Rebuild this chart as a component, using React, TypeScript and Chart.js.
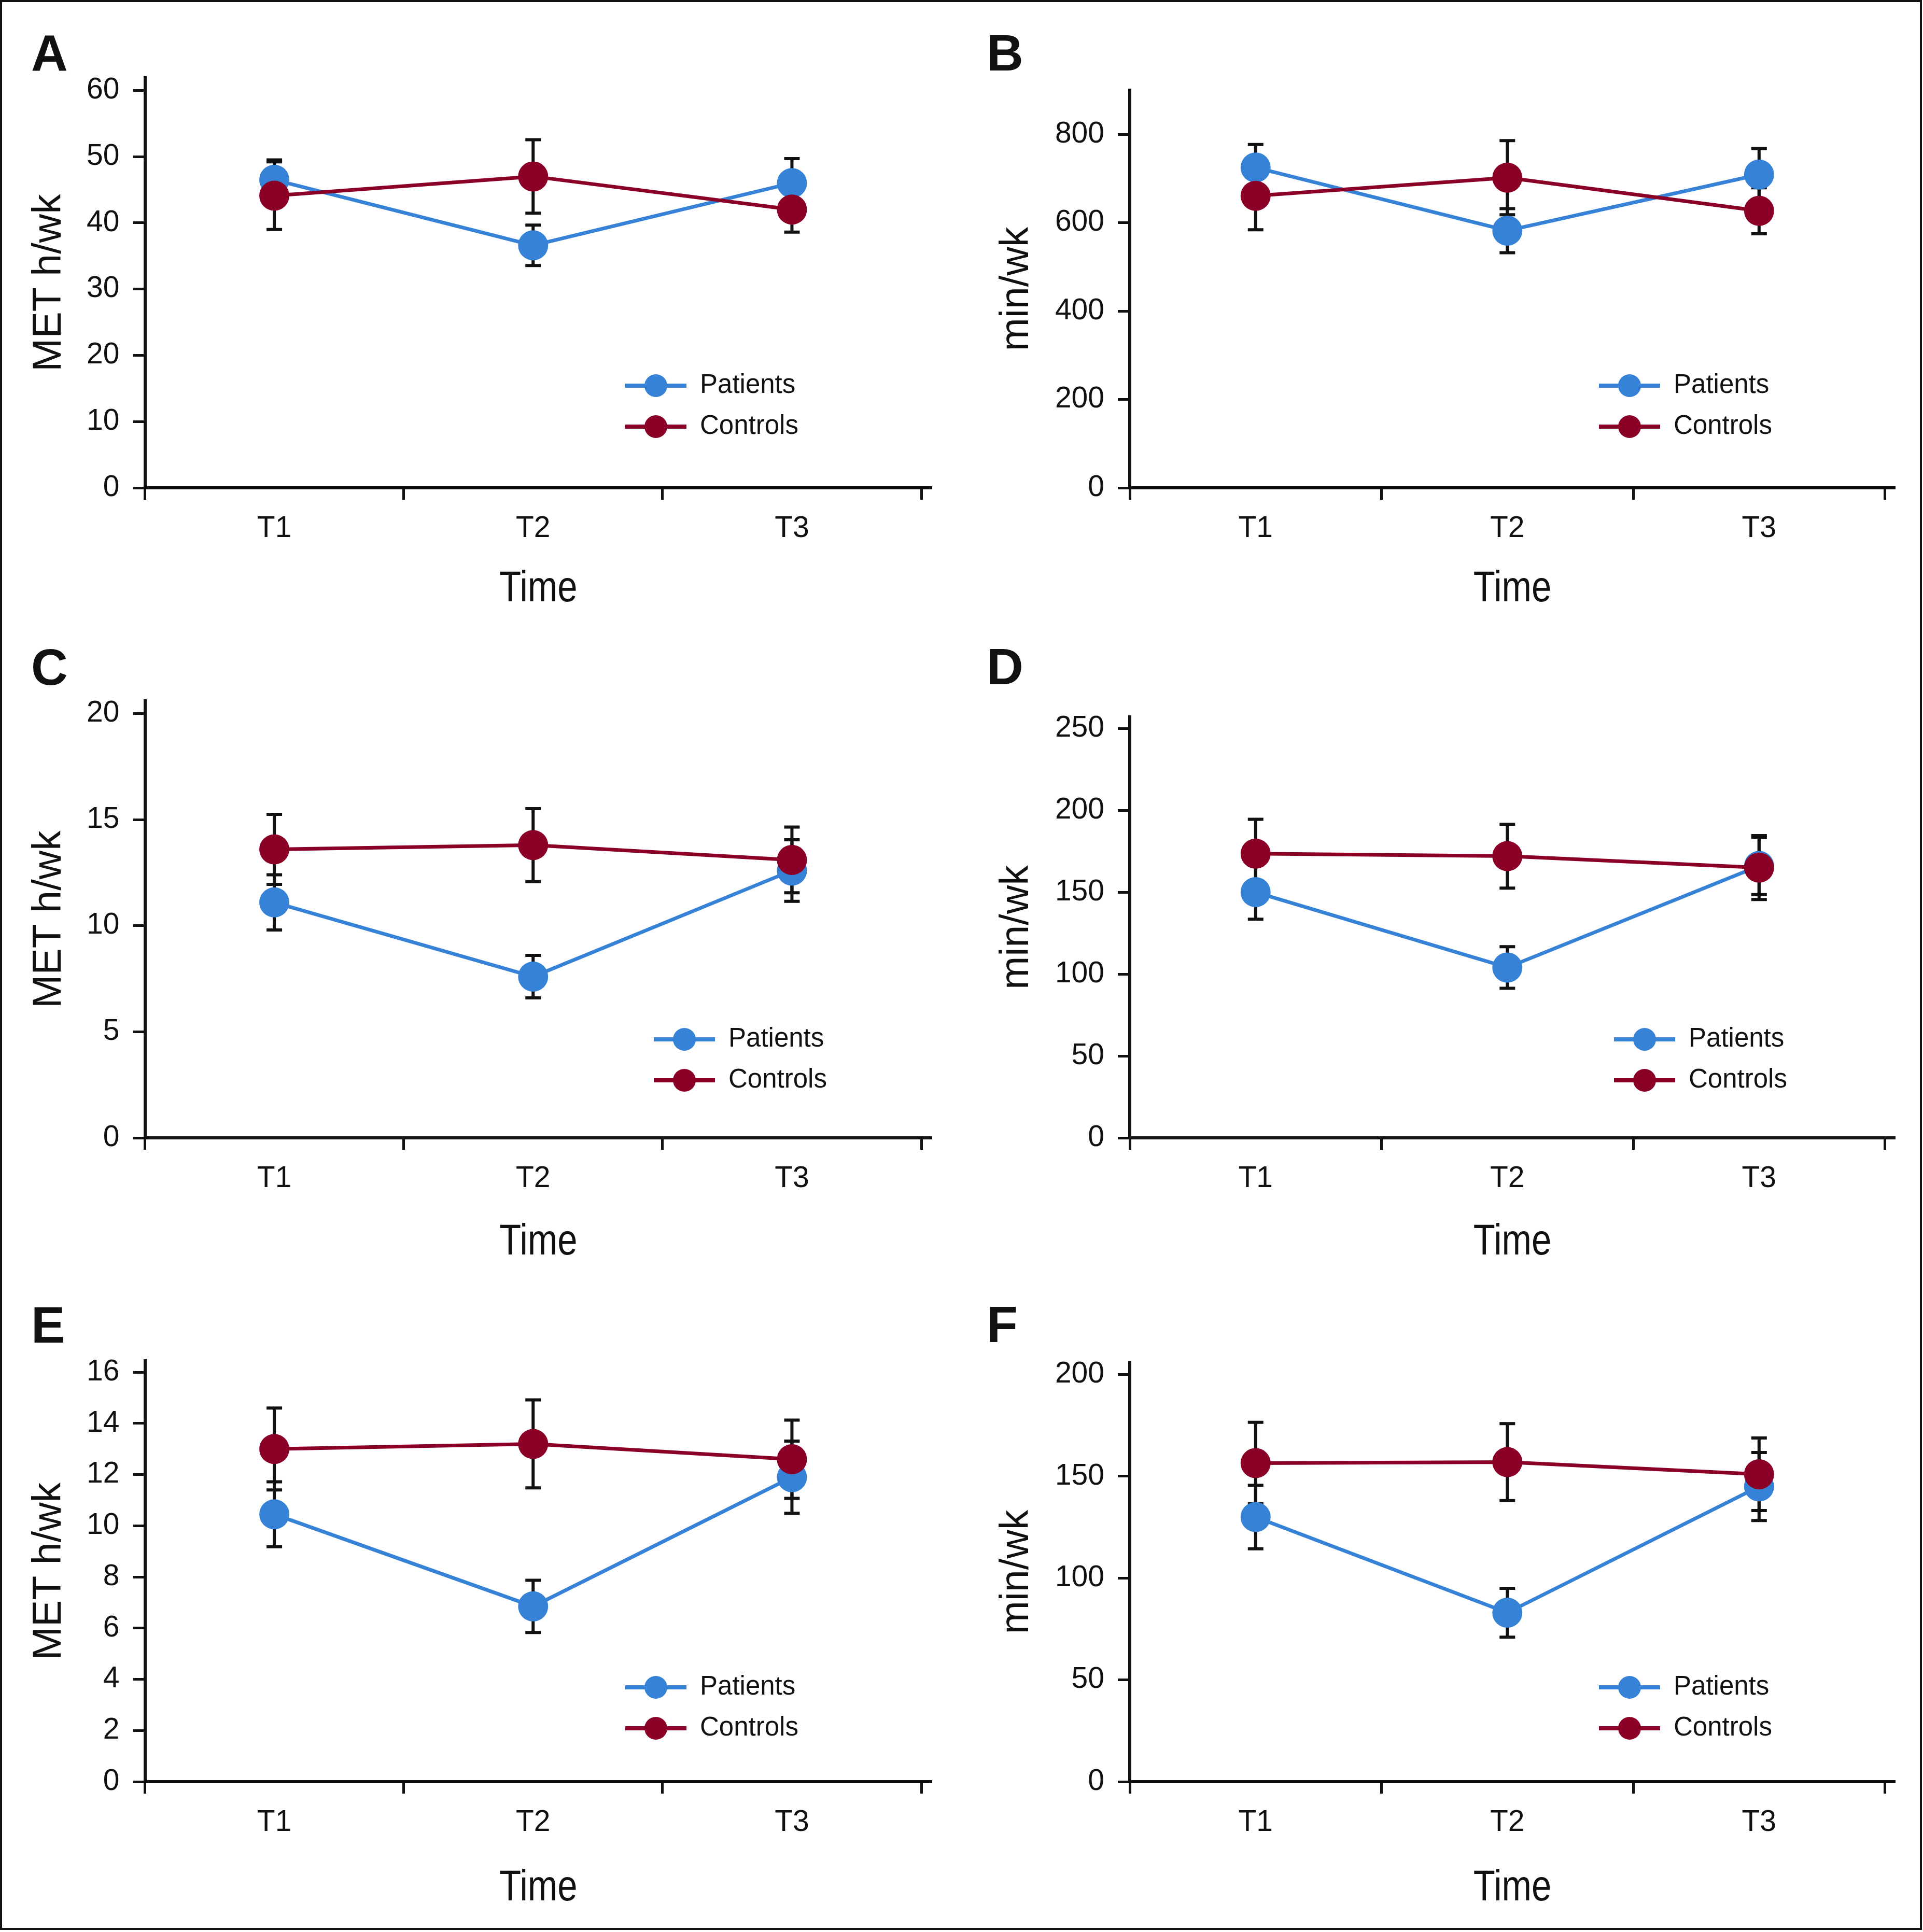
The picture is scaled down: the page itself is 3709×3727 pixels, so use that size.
import React, { useEffect, useRef } from 'react';
import { Chart, registerables } from 'chart.js';

Chart.register(...registerables);

// ---------- data ----------
const CATEGORIES = ['T1', 'T2', 'T3'];
const SERIES_NAMES = ['Patients', 'Controls'];
const SERIES_COLORS = ['#3682D7', '#8A0026'];

// A: MET h/wk
const A_PATIENTS = [46.5, 36.6, 46.0];
const A_PATIENTS_SE = [3.0, 3.05, 3.7];
const A_CONTROLS = [44.1, 47.0, 42.0];
const A_CONTROLS_SE = [5.1, 5.55, 3.4];

// B: min/wk
const B_PATIENTS = [725, 582, 709];
const B_PATIENTS_SE = [52, 50, 59];
const B_CONTROLS = [661, 702, 627];
const B_CONTROLS_SE = [77, 84, 52];

// C: MET h/wk
const C_PATIENTS = [11.1, 7.6, 12.6];
const C_PATIENTS_SE = [1.3, 1.0, 1.45];
const C_CONTROLS = [13.6, 13.8, 13.1];
const C_CONTROLS_SE = [1.65, 1.72, 1.55];

// D: min/wk
const D_PATIENTS = [150, 104, 166];
const D_PATIENTS_SE = [16.5, 12.7, 17.5];
const D_CONTROLS = [173.5, 172, 165];
const D_CONTROLS_SE = [21, 19.5, 19.5];

// E: MET h/wk
const E_PATIENTS = [10.45, 6.85, 11.9];
const E_PATIENTS_SE = [1.27, 1.02, 1.41];
const E_CONTROLS = [13.0, 13.2, 12.6];
const E_CONTROLS_SE = [1.6, 1.72, 1.53];

// F: min/wk
const F_PATIENTS = [130, 83, 145];
const F_PATIENTS_SE = [15.6, 12, 16.7];
const F_CONTROLS = [156.5, 157, 151];
const F_CONTROLS_SE = [20, 18.9, 17.8];

// y-axis ranges (top of axis line, tick step)
const Y_MAX = [61.9, 900, 20.6, 257, 16.45, 206];
const Y_STEP = [10, 200, 5, 50, 2, 50];
const Y_TITLES = ['MET h/wk', 'min/wk', 'MET h/wk', 'min/wk', 'MET h/wk', 'min/wk'];
const PANEL_LETTERS = ['A', 'B', 'C', 'D', 'E', 'F'];
const X_TITLE = 'Time';

// ---------- layout / style ----------
const SANS = "'Liberation Sans', Arial, Helvetica, sans-serif";
const INK = '#111111';

const LAYOUT = [
  { left: 4, top: 4, w: 1846, h: 1226, axisX: 279.5, plotRight: 1797, plotTop: 150, plotBottom: 941, titleX: 96, timeBase: 1160, letterX: 60, letterY: 136, legendDX: 591, legendDY: 197 },
  { left: 1850, top: 4, w: 1853, h: 1226, axisX: 2179, plotRight: 3655, plotTop: 174, plotBottom: 941, titleX: 1962, timeBase: 1160, letterX: 1903, letterY: 136, legendDX: 571, legendDY: 197 },
  { left: 4, top: 1230, w: 1846, h: 1240, axisX: 279.5, plotRight: 1797, plotTop: 1352, plotBottom: 2195, titleX: 96, timeBase: 2420, letterX: 60, letterY: 1321, legendDX: 536, legendDY: 190 },
  { left: 1850, top: 1230, w: 1853, h: 1240, axisX: 2179, plotRight: 3655, plotTop: 1383, plotBottom: 2195, titleX: 1962, timeBase: 2420, letterX: 1903, letterY: 1320, legendDX: 542, legendDY: 190 },
  { left: 4, top: 2470, w: 1846, h: 1248, axisX: 279.5, plotRight: 1797, plotTop: 2625, plotBottom: 3437, titleX: 96, timeBase: 3666, letterX: 60, letterY: 2590, legendDX: 591, legendDY: 182 },
  { left: 1850, top: 2470, w: 1853, h: 1248, axisX: 2179, plotRight: 3655, plotTop: 2628, plotBottom: 3437, titleX: 1962, timeBase: 3666, letterX: 1903, letterY: 2589, legendDX: 571, legendDY: 182 },
];

const SERIES = [
  [[A_PATIENTS, A_PATIENTS_SE], [A_CONTROLS, A_CONTROLS_SE]],
  [[B_PATIENTS, B_PATIENTS_SE], [B_CONTROLS, B_CONTROLS_SE]],
  [[C_PATIENTS, C_PATIENTS_SE], [C_CONTROLS, C_CONTROLS_SE]],
  [[D_PATIENTS, D_PATIENTS_SE], [D_CONTROLS, D_CONTROLS_SE]],
  [[E_PATIENTS, E_PATIENTS_SE], [E_CONTROLS, E_CONTROLS_SE]],
  [[F_PATIENTS, F_PATIENTS_SE], [F_CONTROLS, F_CONTROLS_SE]],
];

const TICK_FONT = 57;
const TICK_LEN = 23;
const YTITLE_FONT = 77;
const XTITLE_FONT = 84;
const XTITLE_SQUEEZE = 0.82;
const LEGEND_FONT = 51;
const POINT_R = 29;
const LINE_W = 7;

function Panel({ idx }: { idx: number }) {
  const ref = useRef<HTMLCanvasElement | null>(null);
  const c = LAYOUT[idx];

  useEffect(() => {
    const canvas = ref.current;
    if (!canvas) return;
    const series = SERIES[idx];

    const xTicks: number[] = [];
    for (let i = 0; i <= CATEGORIES.length; i++) xTicks.push(i + 0.5);
    for (let i = 1; i <= CATEGORIES.length; i++) xTicks.push(i);
    xTicks.sort((a, b) => a - b);

    const errorBars = {
      id: 'errorBars',
      beforeDatasetsDraw(chart: any) {
        const { ctx, scales } = chart;
        const xs = scales.x;
        const ys = scales.y;
        ctx.save();
        ctx.strokeStyle = INK;
        ctx.lineWidth = 6;
        ctx.lineCap = 'butt';
        series.forEach(([means, ses]) => {
          means.forEach((m: number, i: number) => {
            const px = xs.getPixelForValue(i + 1);
            const pt = ys.getPixelForValue(m + ses[i]);
            const pb = ys.getPixelForValue(m - ses[i]);
            ctx.beginPath();
            ctx.moveTo(px, pt);
            ctx.lineTo(px, pb);
            ctx.moveTo(px - 15, pt);
            ctx.lineTo(px + 15, pt);
            ctx.moveTo(px - 15, pb);
            ctx.lineTo(px + 15, pb);
            ctx.stroke();
          });
        });
        ctx.restore();
      },
    };

    const decorations = {
      id: 'decorations',
      afterDraw(chart: any) {
        const { ctx, chartArea } = chart;
        ctx.save();
        // legend inside the plot
        const x0 = chartArea.right - c.legendDX;
        const y0 = chartArea.bottom - c.legendDY;
        SERIES_NAMES.forEach((name, k) => {
          const y = y0 + k * 79;
          ctx.strokeStyle = SERIES_COLORS[k];
          ctx.lineWidth = 8;
          ctx.beginPath();
          ctx.moveTo(x0, y);
          ctx.lineTo(x0 + 118, y);
          ctx.stroke();
          ctx.fillStyle = SERIES_COLORS[k];
          ctx.beginPath();
          ctx.arc(x0 + 59, y, 22, 0, Math.PI * 2);
          ctx.fill();
          ctx.fillStyle = INK;
          ctx.font = `${LEGEND_FONT}px ${SANS}`;
          ctx.textAlign = 'left';
          ctx.textBaseline = 'middle';
          ctx.fillText(name, x0 + 144, y);
        });
        // x-axis title in a condensed face
        const cx = (chartArea.left + chartArea.right) / 2;
        ctx.save();
        ctx.translate(cx, c.timeBase - c.top);
        ctx.scale(XTITLE_SQUEEZE, 1);
        ctx.fillStyle = INK;
        ctx.font = `${XTITLE_FONT}px ${SANS}`;
        ctx.textAlign = 'center';
        ctx.textBaseline = 'alphabetic';
        ctx.fillText(X_TITLE, 0, 0);
        ctx.restore();
        // panel letter
        ctx.fillStyle = INK;
        ctx.font = `bold 98px ${SANS}`;
        ctx.textAlign = 'left';
        ctx.textBaseline = 'alphabetic';
        ctx.fillText(PANEL_LETTERS[idx], c.letterX - c.left, c.letterY - c.top);
        ctx.restore();
      },
    };

    const datasets = SERIES_NAMES.map((name, k) => ({
      label: name,
      data: series[k][0].map((v: number, i: number) => ({ x: i + 1, y: v })),
      borderColor: SERIES_COLORS[k],
      backgroundColor: SERIES_COLORS[k],
      pointBackgroundColor: SERIES_COLORS[k],
      pointBorderWidth: 0,
      pointRadius: POINT_R,
      pointHoverRadius: POINT_R,
      borderWidth: LINE_W,
      tension: 0,
      order: k === 0 ? 1 : 0,
      clip: false as any,
    }));

    const chart = new Chart(canvas, {
      type: 'line',
      data: { datasets },
      plugins: [errorBars, decorations],
      options: {
        responsive: false,
        animation: false,
        devicePixelRatio: 1,
        events: [],
        layout: {
          padding: { left: 0, top: c.plotTop - c.top, right: c.left + c.w - c.plotRight, bottom: 0 },
        },
        plugins: { legend: { display: false }, tooltip: { enabled: false }, title: { display: false } },
        scales: {
          x: {
            type: 'linear',
            position: 'bottom',
            min: 0.5,
            max: 3.54,
            afterBuildTicks: (s: any) => {
              s.ticks = xTicks.map((v) => ({ value: v }));
            },
            afterFit: (s: any) => {
              s.height = c.top + c.h - c.plotBottom;
            },
            border: { display: true, color: INK, width: 6 },
            grid: {
              display: true,
              drawOnChartArea: false,
              drawTicks: true,
              tickLength: TICK_LEN,
              tickWidth: 5,
              color: 'rgba(0,0,0,0)',
              tickColor: (ctx: any) => (ctx.tick && Number.isInteger(ctx.tick.value) ? 'rgba(0,0,0,0)' : INK),
            },
            ticks: {
              autoSkip: false,
              maxRotation: 0,
              minRotation: 0,
              padding: 79 - TICK_LEN - TICK_FONT / 2,
              color: INK,
              font: { family: SANS, size: TICK_FONT, lineHeight: 1 },
              callback: (v: any) => (Number.isInteger(v) ? CATEGORIES[v - 1] : ''),
            },
            title: { display: false },
          },
          y: {
            type: 'linear',
            position: 'left',
            min: 0,
            max: Y_MAX[idx],
            afterFit: (s: any) => {
              s.width = c.axisX - c.left;
            },
            border: { display: true, color: INK, width: 6 },
            grid: {
              display: true,
              drawOnChartArea: false,
              drawTicks: true,
              tickLength: TICK_LEN,
              tickWidth: 5,
              tickColor: INK,
              color: 'rgba(0,0,0,0)',
            },
            ticks: {
              stepSize: Y_STEP[idx],
              includeBounds: false,
              padding: 26,
              color: INK,
              font: { family: SANS, size: TICK_FONT },
            },
            title: {
              display: true,
              text: Y_TITLES[idx],
              color: INK,
              font: { family: SANS, size: YTITLE_FONT, lineHeight: 1 },
              padding: { top: c.titleX - c.left - YTITLE_FONT / 2, bottom: 0 },
            },
          },
        },
      } as any,
    });
    return () => chart.destroy();
  }, [idx]);

  return (
    <canvas
      ref={ref}
      width={c.w}
      height={c.h}
      style={{ position: 'absolute', left: c.left, top: c.top, width: c.w, height: c.h }}
    />
  );
}

export default function App() {
  return (
    <div style={{ position: 'absolute', left: 0, top: 0, width: 3709, height: 3727, background: '#ffffff', overflow: 'hidden' }}>
      <div
        style={{
          position: 'absolute',
          left: 0,
          top: 0,
          width: 3707,
          height: 3723,
          border: `4px solid ${INK}`,
          boxSizing: 'border-box',
        }}
      />
      {LAYOUT.map((_, i) => (
        <Panel key={i} idx={i} />
      ))}
    </div>
  );
}
